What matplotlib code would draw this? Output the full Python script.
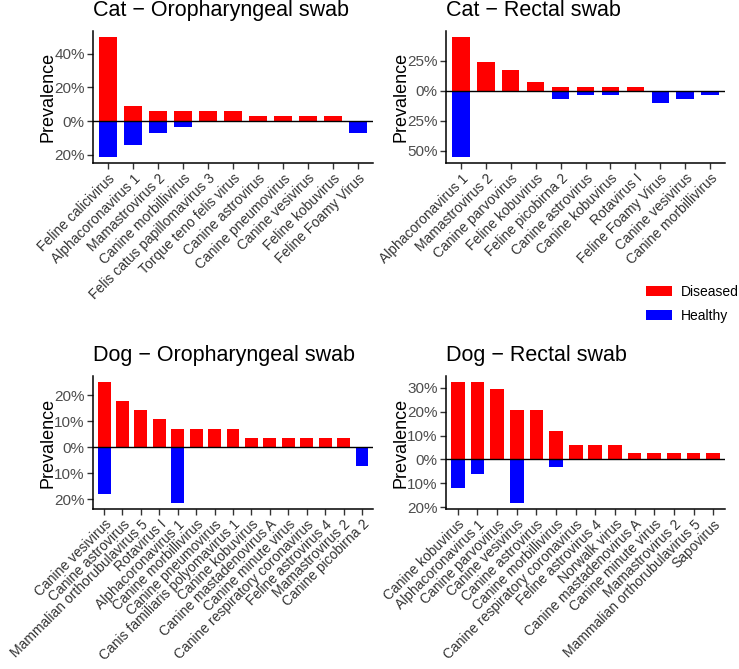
import matplotlib
matplotlib.use('Agg')
import matplotlib.pyplot as plt
from matplotlib.patches import Patch
from matplotlib.ticker import FuncFormatter
import numpy as np

plt.rcParams['font.family'] = ['Liberation Sans', 'DejaVu Sans']

# ---------------- data (percent) ----------------
cat_oro_viruses = ["Feline calicivirus", "Alphacoronavirus 1", "Mamastrovirus 2",
                   "Canine morbillivirus", "Felis catus papillomavirus 3",
                   "Torque teno felis virus", "Canine astrovirus", "Canine pneumovirus",
                   "Canine vesivirus", "Feline kobuvirus", "Feline Foamy Virus"]
cat_oro_diseased = [50.0, 8.8, 5.9, 5.9, 5.9, 5.9, 2.9, 2.9, 2.9, 2.9, 0.0]
cat_oro_healthy = [21.4, 14.3, 7.1, 3.6, 0.0, 0.0, 0.0, 0.0, 0.0, 0.0, 7.1]
cat_oro_ticks = [-20, 0, 20, 40]

cat_rec_viruses = ["Alphacoronavirus 1", "Mamastrovirus 2", "Canine parvovirus",
                   "Feline kobuvirus", "Feline picobirna 2", "Canine astrovirus",
                   "Canine kobuvirus", "Rotavirus I", "Feline Foamy Virus",
                   "Canine vesivirus", "Canine morbillivirus"]
cat_rec_diseased = [44.8, 24.1, 17.2, 6.9, 3.4, 3.4, 3.4, 3.4, 0.0, 0.0, 0.0]
cat_rec_healthy = [55.2, 0.0, 0.0, 0.0, 6.9, 3.4, 3.4, 0.0, 10.3, 6.9, 3.4]
cat_rec_ticks = [-50, -25, 0, 25]

dog_oro_viruses = ["Canine vesivirus", "Canine astrovirus", "Mammalian orthorubulavirus 5",
                   "Rotavirus I", "Alphacoronavirus 1", "Canine morbillivirus",
                   "Canine pneumovirus", "Canis familiaris polyomavirus 1",
                   "Canine kobuvirus", "Canine mastadenovirus A", "Canine minute virus",
                   "Canine respiratory coronavirus", "Feline astrovirus 4",
                   "Mamastrovirus 2", "Canine picobirna 2"]
dog_oro_diseased = [25.0, 17.9, 14.3, 10.7, 7.1, 7.1, 7.1, 7.1, 3.6, 3.6, 3.6, 3.6, 3.6, 3.6, 0.0]
dog_oro_healthy = [17.9, 0.0, 0.0, 0.0, 21.4, 0.0, 0.0, 0.0, 0.0, 0.0, 0.0, 0.0, 0.0, 0.0, 7.1]
dog_oro_ticks = [-20, -10, 0, 10, 20]

dog_rec_viruses = ["Canine kobuvirus", "Alphacoronavirus 1", "Canine parvovirus",
                   "Canine vesivirus", "Canine astrovirus", "Canine morbillivirus",
                   "Canine respiratory coronavirus", "Feline astrovirus 4", "Norwalk virus",
                   "Canine mastadenovirus A", "Canine minute virus", "Mamastrovirus 2",
                   "Mammalian orthorubulavirus 5", "Sapovirus"]
dog_rec_diseased = [32.4, 32.4, 29.4, 20.6, 20.6, 11.8, 5.9, 5.9, 5.9, 2.9, 2.9, 2.9, 2.9, 2.9]
dog_rec_healthy = [12.1, 6.1, 0.0, 18.2, 0.0, 3.0, 0.0, 0.0, 0.0, 0.0, 0.0, 0.0, 0.0, 0.0]
dog_rec_ticks = [-20, -10, 0, 10, 20, 30]

titles = ["Cat \u2212 Oropharyngeal swab", "Cat \u2212 Rectal swab",
          "Dog \u2212 Oropharyngeal swab", "Dog \u2212 Rectal swab"]
legend_labels = ["Diseased", "Healthy"]

RED = "#FF0000"
BLUE = "#0000FF"
TXT = "#4D4D4D"

W, H = 739, 669
fig = plt.figure(figsize=(W / 100, H / 100), dpi=100)


def px_axes(l, t, r, b):
    return fig.add_axes([l / W, 1 - b / H, (r - l) / W, (b - t) / H])


def panel(rect, title, viruses, dis, hea, ticks, title_base):
    ax = px_axes(*rect)
    x = np.arange(len(viruses))
    ax.bar(x, dis, width=0.7, color=RED, linewidth=0, zorder=2)
    ax.bar(x, -np.array(hea), width=0.7, color=BLUE, linewidth=0, zorder=2)
    ax.axhline(0, color='black', lw=1.0, zorder=3)
    ax.set_xlim(-0.6, len(viruses) - 1 + 0.6)
    lo = -max(hea)
    hi = max(dis)
    rng = hi - lo
    ax.set_ylim(lo - 0.05 * rng, hi + 0.05 * rng)
    ax.set_yticks(ticks)
    ax.yaxis.set_major_formatter(FuncFormatter(lambda v, p: f"{abs(int(round(v)))}%"))
    ax.set_xticks(x)
    ax.set_xticklabels(viruses, rotation=45, ha='right', va='top',
                       rotation_mode='anchor', fontsize=10, color='#333333')
    ax.tick_params(axis='y', labelsize=11, labelcolor=TXT, length=4, width=1.0,
                   color='#333333', pad=2)
    ax.tick_params(axis='x', length=4, width=1.0, color='#333333', pad=2)
    for s in ['top', 'right']:
        ax.spines[s].set_visible(False)
    for s in ['left', 'bottom']:
        ax.spines[s].set_linewidth(1.1)
        ax.spines[s].set_color('black')
    ax.set_ylabel("Prevalence", fontsize=13, labelpad=-2, color='black')
    fig.text(rect[0] / W, 1 - title_base / H, title, fontsize=15.5,
             ha='left', va='baseline', color='black')
    return ax


panel((93, 31, 373, 163), titles[0], cat_oro_viruses, cat_oro_diseased,
      cat_oro_healthy, cat_oro_ticks, 16)
panel((446, 31, 725, 163), titles[1], cat_rec_viruses, cat_rec_diseased,
      cat_rec_healthy, cat_rec_ticks, 16)
panel((93, 376, 373, 509), titles[2], dog_oro_viruses, dog_oro_diseased,
      dog_oro_healthy, dog_oro_ticks, 361)
panel((446, 376, 725, 509), titles[3], dog_rec_viruses, dog_rec_diseased,
      dog_rec_healthy, dog_rec_ticks, 361)

handles = [Patch(facecolor=RED, edgecolor='none'), Patch(facecolor=BLUE, edgecolor='none')]
fig.legend(handles, legend_labels, loc='upper left', bbox_to_anchor=(646 / W, 1 - 285 / H),
           frameon=False, fontsize=10, handlelength=1.85, handleheight=0.8,
           handletextpad=0.65, labelspacing=0.7, borderpad=0, borderaxespad=0)

fig.savefig("out.png", dpi=100)
